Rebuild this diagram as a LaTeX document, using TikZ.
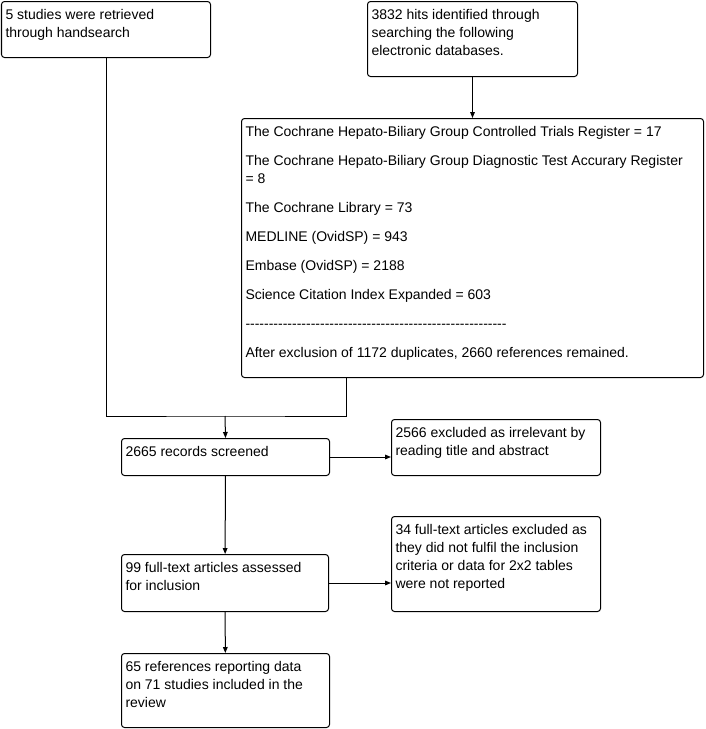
\documentclass[tikz,border=0pt]{standalone}
\usepackage{fontspec}
\newfontfamily\boxfont{Liberation Sans}
\usepackage{tikz}
\usetikzlibrary{arrows.meta,positioning,calc}
\newlength\px
\setlength\px{0.75pt}
\newcommand{\boxtext}[3]{\parbox[t][\dimexpr#2\px-12pt\relax][t]{\dimexpr#1\px-6pt\relax}{#3}}
\newcommand{\dashrow}{\foreach \k in {1,...,56}{-}}
\tikzset{
	box/.style={draw, line width=0.75pt, rounded corners=2.25pt, anchor=north west,
		inner xsep=3pt, inner ysep=6pt, font=\boxfont\fontsize{10.5pt}{13.5pt}\selectfont},
	arr/.style={-{Triangle[length=4.5pt,width=3.5pt]}, line width=0.75pt},
	line/.style={line width=0.75pt}
}
\begin{document}
\begin{tikzpicture}[x=0.75pt,y=-0.75pt]
	\useasboundingbox (0,0) rectangle (706,729);
	\node[box] (hand) at (1,1) {\boxtext{209}{56}{5 studies were retrieved\\through handsearch}};
	\node[box] (hits) at (367,1) {\boxtext{210}{75}{3832 hits identified through\\searching the following\\electronic databases.}};
	\node[box] (db) at (241,118) {\boxtext{462}{259}{%
		The Cochrane Hepato-Biliary Group Controlled Trials Register = 17\\[8.25pt]
		The Cochrane Hepato-Biliary Group Diagnostic Test Accurary Register\\= 8\\[8.25pt]
		The Cochrane Library = 73\\[8.25pt]
		MEDLINE (OvidSP) = 943\\[8.25pt]
		Embase (OvidSP) = 2188\\[8.25pt]
		Science Citation Index Expanded = 603\\[8.25pt]
		\dashrow\\[8.25pt]
		After exclusion of 1172 duplicates, 2660 references remained.}};
	\node[box] (screen) at (121,438) {\boxtext{208}{37}{2665 records screened}};
	\node[box] (irrel) at (391,419) {\boxtext{209}{56}{2566 excluded as irrelevant by\\reading title and abstract}};
	\node[box] (full) at (121,554) {\boxtext{207}{57}{99 full-text articles assessed\\for inclusion}};
	\node[box] (excl) at (391,516) {\boxtext{209}{95}{34 full-text articles excluded as\\they did not fulfil the inclusion\\criteria or data for 2x2 tables\\were not reported}};
	\node[box] (incl) at (121,653) {\boxtext{208}{74}{65 references reporting data\\on 71 studies included in the\\review}};
	\coordinate (join) at (225,416);
	\coordinate (dbout) at ($(db.south west)+(105,0)$);
	\draw[arr] (hits) -- (db);
	\draw[line] (hand.south) |- (join) -| (dbout);
	\draw[arr] (join) -- (screen.north);
	\draw[arr] (screen.east) -- (screen.east -| irrel.west);
	\draw[arr] (screen) -- (full);
	\draw[arr] (full.east) -- (full.east -| excl.west);
	\draw[arr] (full) -- (incl);
\end{tikzpicture}
\end{document}
